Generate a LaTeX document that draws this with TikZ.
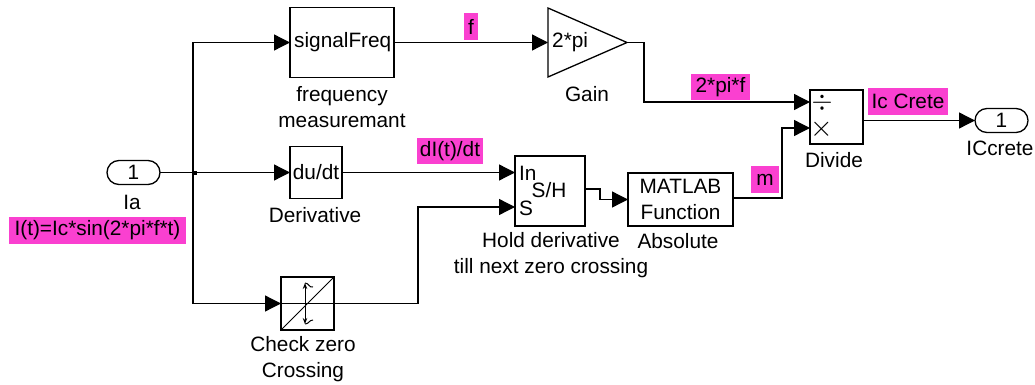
\documentclass[tikz,border=0pt]{standalone}
\usepackage{fontspec}
\setmainfont{Liberation Sans}
\usetikzlibrary{positioning}
\usetikzlibrary{shapes,arrows,calc,arrows.meta}

\definecolor{sigpink}{RGB}{250,64,208}

\tikzset{
    blockbox/.style={draw, line width=1.3pt, inner sep=0pt, outer sep=0pt},
    portbox/.style={draw, line width=1.3pt, rounded rectangle, minimum width=53pt, minimum height=24pt, inner sep=0pt, outer sep=0pt},
    sig/.style={line width=1.3pt, -{Triangle[length=16pt,width=16pt]}},
    wire/.style={line width=1.3pt},
    caption/.style={inner sep=0pt, align=center, font=\fontsize{20.8}{26.5}\selectfont},
    inner/.style={inner sep=0pt, font=\fontsize{20.8}{26}\selectfont},
    siglabel/.style={fill=sigpink, inner sep=0pt, font=\fontsize{20.8}{26}\selectfont}
}

\begin{document}
\begin{tikzpicture}[x=1pt,y=-1pt]
    \useasboundingbox (0,0) rectangle (1035,385);

    % Blocks
    \node[portbox] (ia) at (133.5,172.5) {};
    \node[blockbox, minimum width=104pt, minimum height=70pt] (freq) at (342,42.5) {};
    \node[blockbox, minimum width=52pt, minimum height=52pt] (deriv) at (316,172.5) {};
    \node[blockbox, minimum width=53pt, minimum height=53pt] (check) at (307.5,303.5) {};
    \node[blockbox, isosceles triangle, isosceles triangle stretches, minimum width=69pt, minimum height=79pt, anchor=lower side] (gain) at (548,42.5) {};
    \node[blockbox, minimum width=70pt, minimum height=70pt] (hold) at (550,191) {};
    \node[blockbox, minimum width=105pt, minimum height=53pt] (matlab) at (680.5,199.5) {};
    \node[blockbox, minimum width=53pt, minimum height=54pt] (divide) at (836.5,117) {};
    \node[portbox] (iccrete) at (1001.5,120.5) {};
    \node[fill, minimum size=4pt, inner sep=0pt] (branch) at (194.5,172.5) {};

    % Input points on the blocks
    \coordinate (holdin) at (hold.west |- 0,172.5);
    \coordinate (holds) at (hold.west |- 0,207);
    \coordinate (holdout) at (hold.east |- 0,189);
    \coordinate (divtop) at (divide.west |- 0,102);
    \coordinate (divlow) at (divide.west |- 0,128);
    \coordinate (divout) at (divide.east |- 0,120.5);

    % Text inside the blocks
    \node[inner] (iat) at (ia) {1};
    \node[inner] (iccretet) at (iccrete) {1};
    \node[inner, anchor=west] (freqt) at (294,42) {signalFreq};
    \node[inner] (derivt) at (deriv) {du/dt};
    \node[inner, anchor=west] (gaint) at (552,42) {2*pi};
    \node[inner, anchor=west] (holdint) at (519,173) {In};
    \node[inner, anchor=west] (holdst) at (519,208) {S};
    \node[inner] (holdsh) at (549,190) {S/H};
    \node[inner, align=center] (matlabt) at (matlab) {MATLAB\\Function};
    \node[inner, scale=1.3] (divdiv) at (822,103) {$\div$};
    \node[inner, scale=1.4] (divtimes) at (822,129) {$\times$};

    % Zero crossing symbol
    \draw[line width=1pt] (check.west) -- (check.east);
    \draw[line width=1pt] (check.south west) -- (check.north east);
    \draw[line width=1pt, {Stealth[length=6pt]}-{Stealth[length=6pt]}] (305,283) -- (305,324);
    \draw[line width=1pt] (305,283) .. controls (309,283) and (309,288) .. (313,287);
    \draw[line width=1pt] (305,324) .. controls (309,324) and (309,320) .. (313,320);

    % Wires
    \draw[wire] (ia.east) -- (branch);
    \draw[sig] (branch) -- (deriv.west);
    \draw[sig] (branch.center) ++(-1.5,0) |- (freq.west);
    \draw[sig] (branch.center) ++(-1.5,0) |- (check.west);
    \draw[sig] (freq.east) -- (gain.lower side);
    \draw[sig] (gain.apex) -- ++(17,0) |- (divtop);
    \draw[sig] (deriv.east) -- (holdin);
    \draw[sig] (check.east) -| (418,207) -- (holds);
    \draw[sig] (holdout) -| (600,199.5) -- (matlab.west);
    \draw[sig] (matlab.east) ++(0,-1.5) -| (782,128) -- (divlow);
    \draw[sig] (divout) -- (iccrete.west);

    % Captions
    \foreach \name/\x/\y/\txt in {cia/132/202/Ia, cfreq/342/107/frequency\\measuremant, cgain/587/94/Gain,
        cderiv/315/215/Derivative, ccheck/303/359/Check zero\\Crossing, chold/551/255/Hold derivative\\till next zero crossing,
        cabs/678/241/Absolute, cdiv/834/160/Divide, cout/1000/148/ICcrete}{
        \node[caption] (\name) at (\x,\y) {\txt};
    }

    % Signal names
    \node[siglabel, minimum width=14pt, minimum height=27pt] (lf) at (471,26.5) {f};
    \node[siglabel, minimum width=66pt, minimum height=26pt] (ld) at (450,151) {dI(t)/dt};
    \node[siglabel, minimum width=59pt, minimum height=26pt] (lw) at (720.5,87) {2*pi*f};
    \node[siglabel, minimum width=80pt, minimum height=27pt] (lc) at (908,101.5) {Ic Crete};
    \node[siglabel, minimum width=28pt, minimum height=27pt] (lm) at (765,179.5) {m};
    \node[siglabel, minimum width=177pt, minimum height=27pt] (li) at (97.5,230.5) {I(t)=Ic*sin(2*pi*f*t)};
\end{tikzpicture}
\end{document}
